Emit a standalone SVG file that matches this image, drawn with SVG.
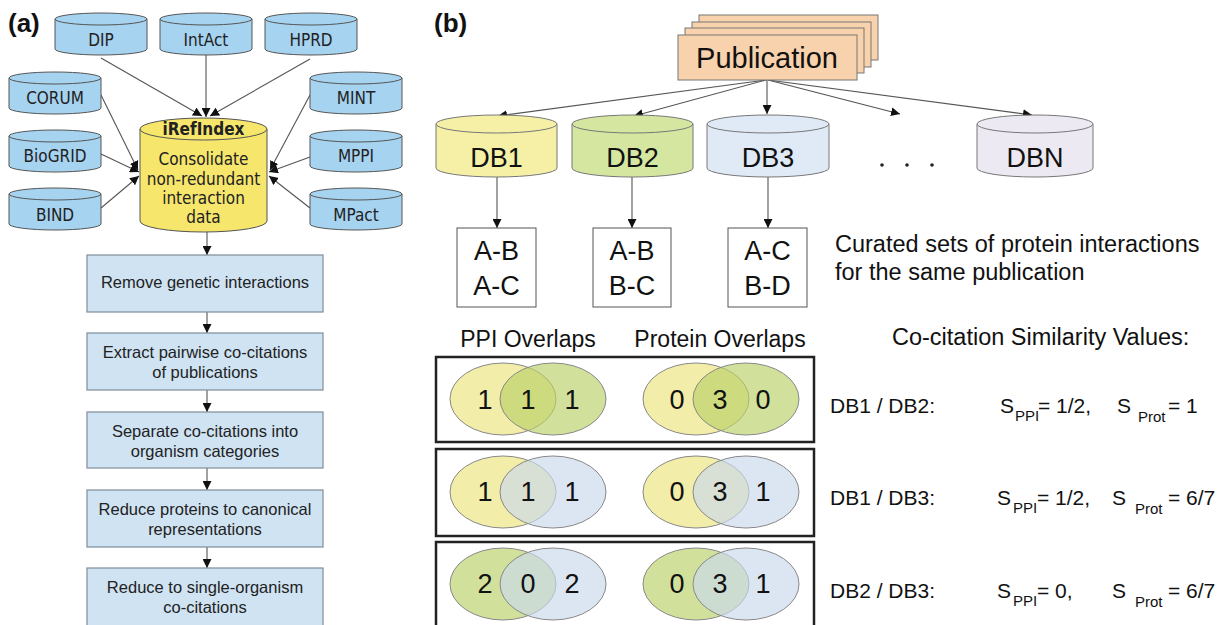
<svg xmlns="http://www.w3.org/2000/svg" xmlns:xlink="http://www.w3.org/1999/xlink" width="1222" height="625" viewBox="0 0 1222 625">
<style>
.cylA{fill:#a6d3f0;stroke:#555;stroke-width:1}
.lblA{font-family:"DejaVu Sans Condensed","DejaVu Sans",sans-serif;font-stretch:condensed;font-size:17px;fill:#222;text-anchor:middle}
.box{fill:#cfe3f3;stroke:#7f8c99;stroke-width:1.2}
.btxt{font-family:"Liberation Sans",Arial,sans-serif;font-size:16.5px;fill:#222;text-anchor:middle}
.pub{fill:#f8d2ac;stroke:#777;stroke-width:1}
.dbt{font-family:"Liberation Sans",Arial,sans-serif;font-size:27px;fill:#111;text-anchor:middle}
.set{fill:#fff;stroke:#555;stroke-width:1}
.sett{font-family:"Liberation Sans",Arial,sans-serif;font-size:27px;fill:#111;text-anchor:middle}
.frame{fill:none;stroke:#222;stroke-width:2.5}
.ven{stroke:#888;stroke-width:1;fill-opacity:0.66}
.y{fill:#ebe47b}.g{fill:#b9d269}.b{fill:#cad9ed}
.num{font-family:"Liberation Sans",Arial,sans-serif;font-size:27px;fill:#111;text-anchor:middle}
.t{font-family:"Liberation Sans",Arial,sans-serif;fill:#111}
.conn line{stroke:#555;stroke-width:1.1}
.panel{font-family:"Liberation Sans",Arial,sans-serif;font-weight:bold;font-size:26px;fill:#111}
</style>
<defs>
<marker id="ah" viewBox="0 0 10 10" refX="10" refY="5" markerWidth="9" markerHeight="9" markerUnits="userSpaceOnUse" orient="auto">
<path d="M0,0 L10,5 L0,10 Z" fill="#111"/>
</marker>
<g id="cylA">
<path class="cylA" d="M0 6 V36 A46 6 0 0 0 92 36 V6 Z"/>
<ellipse class="cylA" cx="46" cy="6" rx="46" ry="6"/>
</g>
</defs>
<rect width="1222" height="625" fill="#fff"/>

<text class="panel" x="8" y="32">(a)</text>
<text class="panel" x="434" y="32">(b)</text>

<g id="connectors" class="conn">
<line x1="101" y1="58" x2="202" y2="116" marker-end="url(#ah)"/>
<line x1="206" y1="55" x2="206" y2="117" marker-end="url(#ah)"/>
<line x1="310" y1="59" x2="210" y2="116" marker-end="url(#ah)"/>
<line x1="101" y1="95" x2="138" y2="170" marker-end="url(#ah)"/>
<line x1="101" y1="154" x2="139" y2="172" marker-end="url(#ah)"/>
<line x1="101" y1="208" x2="139" y2="176" marker-end="url(#ah)"/>
<line x1="310" y1="95" x2="270" y2="170" marker-end="url(#ah)"/>
<line x1="310" y1="157" x2="269" y2="172" marker-end="url(#ah)"/>
<line x1="310" y1="208" x2="269" y2="176" marker-end="url(#ah)"/>
<line x1="207" y1="232" x2="207" y2="255" marker-end="url(#ah)"/>
<line x1="207" y1="312" x2="207" y2="333" marker-end="url(#ah)"/>
<line x1="207" y1="390" x2="207" y2="412" marker-end="url(#ah)"/>
<line x1="207" y1="468" x2="207" y2="490" marker-end="url(#ah)"/>
<line x1="207" y1="547" x2="207" y2="568" marker-end="url(#ah)"/>
<line x1="766" y1="80" x2="498" y2="116" marker-end="url(#ah)"/>
<line x1="766" y1="80" x2="634" y2="116" marker-end="url(#ah)"/>
<line x1="767" y1="80" x2="767" y2="114" marker-end="url(#ah)"/>
<line x1="768" y1="80" x2="900" y2="114" marker-end="url(#ah)"/>
<line x1="768" y1="80" x2="1032" y2="115" marker-end="url(#ah)"/>
<line x1="497" y1="177" x2="497" y2="228" marker-end="url(#ah)"/>
<line x1="632" y1="177" x2="632" y2="228" marker-end="url(#ah)"/>
<line x1="768" y1="177" x2="768" y2="228" marker-end="url(#ah)"/>
</g>

<g id="dip"><use xlink:href="#cylA" x="55" y="13"/><text class="lblA" x="101" y="46">DIP</text></g>
<g id="intact"><use xlink:href="#cylA" x="160" y="13"/><text class="lblA" x="206" y="46">IntAct</text></g>
<g id="hprd"><use xlink:href="#cylA" x="265" y="13"/><text class="lblA" x="311" y="46">HPRD</text></g>
<g id="corum"><use xlink:href="#cylA" x="9" y="72"/><text class="lblA" x="55" y="104">CORUM</text></g>
<g id="biogrid"><use xlink:href="#cylA" x="9" y="130"/><text class="lblA" x="55" y="162">BioGRID</text></g>
<g id="bind"><use xlink:href="#cylA" x="9" y="188"/><text class="lblA" x="55" y="221">BIND</text></g>
<g id="mint"><use xlink:href="#cylA" x="310" y="72"/><text class="lblA" x="356" y="104">MINT</text></g>
<g id="mppi"><use xlink:href="#cylA" x="310" y="130"/><text class="lblA" x="356" y="162">MPPI</text></g>
<g id="mpact"><use xlink:href="#cylA" x="310" y="188"/><text class="lblA" x="356" y="221">MPact</text></g>

<g id="irefindex">
<path d="M140 129 V221 A63.5 11 0 0 0 267 221 V129 Z" fill="#f6e66c" stroke="#555"/>
<ellipse cx="203.5" cy="129" rx="63.5" ry="11" fill="#f6e66c" stroke="#555"/>
<text class="lblA" x="203.5" y="135" font-weight="bold">iRefIndex</text>
<text class="lblA" x="203.5" y="165">Consolidate</text>
<text class="lblA" x="203.5" y="185">non-redundant</text>
<text class="lblA" x="203.5" y="204">interaction</text>
<text class="lblA" x="203.5" y="223">data</text>
</g>

<g id="step1"><rect class="box" x="87" y="255" width="236" height="57"/><text class="btxt" x="205" y="288">Remove genetic interactions</text></g>
<g id="step2"><rect class="box" x="87" y="333" width="236" height="57"/><text class="btxt" x="205" y="358">Extract pairwise co-citations</text><text class="btxt" x="205" y="378">of publications</text></g>
<g id="step3"><rect class="box" x="87" y="412" width="236" height="56"/><text class="btxt" x="205" y="437">Separate co-citations into</text><text class="btxt" x="205" y="457">organism categories</text></g>
<g id="step4"><rect class="box" x="87" y="490" width="236" height="57"/><text class="btxt" x="205" y="515">Reduce proteins to canonical</text><text class="btxt" x="205" y="535">representations</text></g>
<g id="step5"><rect class="box" x="87" y="568" width="236" height="62"/><text class="btxt" x="205" y="593">Reduce to single-organism</text><text class="btxt" x="205" y="613">co-citations</text></g>

<g id="publication">
<rect class="pub" x="699" y="15" width="179" height="45"/>
<rect class="pub" x="692" y="22" width="179" height="45"/>
<rect class="pub" x="685" y="28" width="179" height="45"/>
<rect class="pub" x="678" y="35" width="179" height="45"/>
<text class="t" x="767" y="68" font-size="29" text-anchor="middle">Publication</text>
</g>

<g id="db1">
<path d="M436 124 V168 A60.5 9 0 0 0 557 168 V124 Z" fill="#f5f0a6" stroke="#777"/>
<ellipse cx="496.5" cy="124" rx="60.5" ry="9" fill="#f5f0a6" stroke="#777"/>
<text class="dbt" x="496.5" y="167">DB1</text>
</g>
<g id="db2">
<path d="M572 124 V168 A60.5 9 0 0 0 693 168 V124 Z" fill="#d5e6a1" stroke="#777"/>
<ellipse cx="632.5" cy="124" rx="60.5" ry="9" fill="#d5e6a1" stroke="#777"/>
<text class="dbt" x="632.5" y="167">DB2</text>
</g>
<g id="db3">
<path d="M707 124 V168 A61 9 0 0 0 829 168 V124 Z" fill="#dfeaf6" stroke="#777"/>
<ellipse cx="768" cy="124" rx="61" ry="9" fill="#dfeaf6" stroke="#777"/>
<text class="dbt" x="768" y="167">DB3</text>
</g>
<g id="dots">
<circle cx="882" cy="165" r="1.8" fill="#222"/>
<circle cx="907" cy="165" r="1.8" fill="#222"/>
<circle cx="932" cy="165" r="1.8" fill="#222"/>
</g>
<g id="dbn">
<path d="M977 124 V168 A58 9 0 0 0 1093 168 V124 Z" fill="#ece9f3" stroke="#777"/>
<ellipse cx="1035" cy="124" rx="58" ry="9" fill="#ece9f3" stroke="#777"/>
<text class="dbt" x="1035" y="167">DBN</text>
</g>

<g id="set1"><rect class="set" x="457" y="228" width="79" height="79"/><text class="sett" x="496.5" y="260">A-B</text><text class="sett" x="496.5" y="295">A-C</text></g>
<g id="set2"><rect class="set" x="593" y="228" width="78" height="79"/><text class="sett" x="632" y="260">A-B</text><text class="sett" x="632" y="295">B-C</text></g>
<g id="set3"><rect class="set" x="728" y="228" width="79" height="79"/><text class="sett" x="767.5" y="260">A-C</text><text class="sett" x="767.5" y="295">B-D</text></g>

<g id="captions">
<text class="t" x="835" y="252" font-size="23.5">Curated sets of protein interactions</text>
<text class="t" x="835" y="280" font-size="23.5">for the same publication</text>
<text class="t" x="528" y="347" font-size="23" text-anchor="middle">PPI Overlaps</text>
<text class="t" x="720" y="347" font-size="23" text-anchor="middle">Protein Overlaps</text>
<text class="t" x="892" y="345" font-size="23.5">Co-citation Similarity Values:</text>
</g>

<g id="row1">
<rect class="frame" x="436" y="357" width="378" height="85"/>
<ellipse class="ven y" cx="503" cy="399" rx="53" ry="36"/>
<ellipse class="ven g" cx="553" cy="399" rx="53" ry="36"/>
<ellipse class="ven y" cx="696" cy="399" rx="53" ry="36"/>
<ellipse class="ven g" cx="746" cy="399" rx="53" ry="36"/>
<text class="num" x="485" y="409">1</text><text class="num" x="528" y="409">1</text><text class="num" x="572" y="409">1</text>
<text class="num" x="677" y="409">0</text><text class="num" x="720" y="409">3</text><text class="num" x="763" y="409">0</text>
<text class="t" x="830" y="413" font-size="21">DB1 / DB2:</text>
<text class="t" x="1000" y="413" font-size="21">S</text><text class="t" x="1015" y="421" font-size="15">PPI</text><text class="t" x="1038" y="413" font-size="21">= 1/2,</text>
<text class="t" x="1117" y="413" font-size="21">S</text><text class="t" x="1138" y="422" font-size="15">Prot</text><text class="t" x="1168" y="413" font-size="21">= 1</text>
</g>

<g id="row2">
<rect class="frame" x="436" y="449" width="378" height="87"/>
<ellipse class="ven y" cx="503" cy="492" rx="53" ry="36"/>
<ellipse class="ven b" cx="553" cy="492" rx="53" ry="36"/>
<ellipse class="ven y" cx="696" cy="492" rx="53" ry="36"/>
<ellipse class="ven b" cx="746" cy="492" rx="53" ry="36"/>
<text class="num" x="485" y="501">1</text><text class="num" x="528" y="501">1</text><text class="num" x="572" y="501">1</text>
<text class="num" x="677" y="501">0</text><text class="num" x="720" y="501">3</text><text class="num" x="763" y="501">1</text>
<text class="t" x="830" y="505" font-size="21">DB1 / DB3:</text>
<text class="t" x="997" y="505" font-size="21">S</text><text class="t" x="1013" y="513" font-size="15">PPI</text><text class="t" x="1037" y="505" font-size="21">= 1/2,</text>
<text class="t" x="1112" y="505" font-size="21">S</text><text class="t" x="1135" y="514" font-size="15">Prot</text><text class="t" x="1168" y="505" font-size="21">= 6/7</text>
</g>

<g id="row3">
<rect class="frame" x="436" y="542" width="378" height="92"/>
<ellipse class="ven g" cx="503" cy="584" rx="53" ry="36"/>
<ellipse class="ven b" cx="553" cy="584" rx="53" ry="36"/>
<ellipse class="ven g" cx="696" cy="584" rx="53" ry="36"/>
<ellipse class="ven b" cx="746" cy="584" rx="53" ry="36"/>
<text class="num" x="485" y="593">2</text><text class="num" x="528" y="593">0</text><text class="num" x="572" y="593">2</text>
<text class="num" x="677" y="593">0</text><text class="num" x="720" y="593">3</text><text class="num" x="763" y="593">1</text>
<text class="t" x="830" y="598" font-size="21">DB2 / DB3:</text>
<text class="t" x="997" y="598" font-size="21">S</text><text class="t" x="1013" y="606" font-size="15">PPI</text><text class="t" x="1037" y="598" font-size="21">= 0,</text>
<text class="t" x="1112" y="598" font-size="21">S</text><text class="t" x="1135" y="607" font-size="15">Prot</text><text class="t" x="1168" y="598" font-size="21">= 6/7</text>
</g>
</svg>
